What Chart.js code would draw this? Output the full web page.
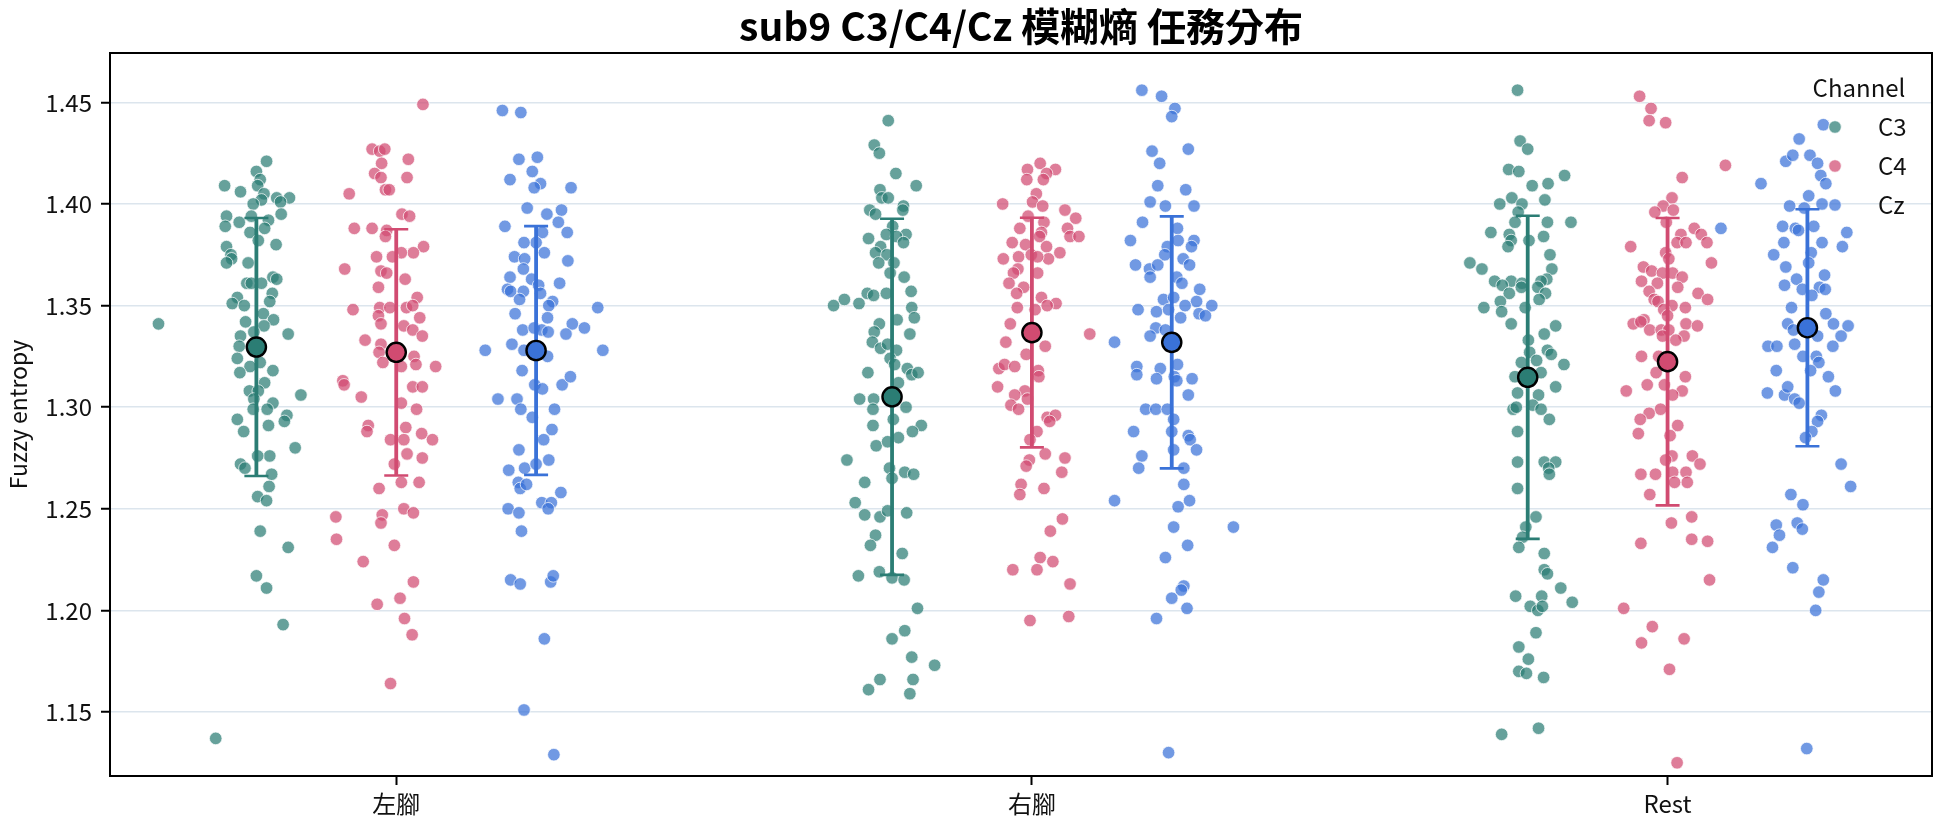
<!DOCTYPE html>
<html>
<head>
<meta charset="utf-8">
<script src="https://cdn.jsdelivr.net/npm/chart.js@4.4.0/dist/chart.umd.min.js"></script>
<style>
    html, body { margin: 0; padding: 0; background: #fff; }
</style>
</head>
<body>
<canvas id="stripChart" width="1944" height="827"></canvas>
<script>
// Categories / channels / ticks
const categories = ['左腳', '右腳', 'Rest'];
const channels = ['C3', 'C4', 'Cz'];
const yTicks = [1.15, 1.20, 1.25, 1.30, 1.35, 1.40, 1.45];

// Mean and SD per channel, in category order
const c3Means = [1.3296, 1.3051, 1.3147];
const c4Means = [1.3270, 1.3367, 1.3224];
const czMeans = [1.3279, 1.3319, 1.3391];
const c3Sd = [0.0635, 0.0876, 0.0795];
const c4Sd = [0.0606, 0.0565, 0.0707];
const czSd = [0.0612, 0.0620, 0.0583];

// Trial values and their horizontal jitter
const c3Left = [1.421,1.416,1.412,1.409,1.409,1.406,1.405,1.403,1.403,1.402,
    1.401,1.400,1.395,1.394,1.391,1.394,1.392,1.389,1.388,1.386,
    1.382,1.380,1.379,1.375,1.373,1.371,1.371,1.364,1.363,1.361,
    1.361,1.361,1.356,1.354,1.351,1.350,1.352,1.346,1.341,1.343,
    1.342,1.340,1.336,1.335,1.337,1.330,1.324,1.322,1.320,1.318,
    1.317,1.312,1.308,1.308,1.306,1.304,1.302,1.299,1.299,1.294,
    1.296,1.293,1.291,1.288,1.280,1.276,1.276,1.272,1.270,1.267,
    1.261,1.256,1.254,1.239,1.231,1.217,1.211,1.193,1.137];
const c3LeftJit = [0.016,0,0.006,-0.050,0.002,-0.025,0.012,0.032,0.052,0.008,
    0.038,-0.005,0.039,-0.047,-0.027,-0.008,0.019,-0.049,0.013,-0.010,
    0.003,0.031,-0.047,-0.040,-0.039,-0.047,-0.013,0.026,0.032,-0.015,
    -0.008,0.008,0.025,-0.030,-0.038,-0.019,0.021,0.011,-0.154,0.027,
    -0.017,0.012,0.050,-0.025,-0.004,-0.027,-0.030,0.006,-0.010,0.026,
    -0.026,0.013,-0.011,0.003,0.070,-0.004,0.026,0.017,-0.005,-0.030,
    0.048,0.044,0.019,-0.020,0.061,0.021,0.002,-0.025,-0.018,0.024,
    0.020,0.002,0.016,0.006,0.050,0,0.016,0.042,-0.064];

const c4Left = [1.449,1.427,1.426,1.427,1.420,1.422,1.415,1.413,1.413,1.407,
    1.407,1.405,1.395,1.394,1.388,1.388,1.387,1.384,1.379,1.376,
    1.376,1.374,1.374,1.368,1.367,1.366,1.363,1.359,1.354,1.348,
    1.349,1.349,1.349,1.350,1.345,1.344,1.341,1.340,1.338,1.335,
    1.333,1.331,1.327,1.325,1.322,1.320,1.321,1.320,1.313,1.311,
    1.310,1.310,1.305,1.302,1.299,1.291,1.288,1.290,1.284,1.284,
    1.287,1.284,1.277,1.272,1.275,1.260,1.263,1.263,1.250,1.248,
    1.246,1.247,1.243,1.235,1.232,1.224,1.214,1.206,1.203,1.196,
    1.188,1.164];
const c4LeftJit = [0.042,-0.038,-0.026,-0.018,-0.023,0.019,-0.034,-0.024,0.017,-0.017,
    -0.011,-0.074,0.009,0.021,-0.066,-0.038,-0.015,-0.017,0.043,0.027,
    0.008,-0.031,-0.006,-0.081,-0.024,-0.015,0.014,-0.028,0.033,-0.068,
    -0.026,-0.010,0.016,0.026,-0.028,0.037,-0.024,0.012,0.026,0.041,
    -0.049,-0.024,-0.027,0.028,-0.021,0.008,0.031,0.062,-0.084,-0.082,
    0.026,0.041,-0.055,0.008,0.032,-0.044,-0.046,0.015,-0.009,0.012,
    0.040,0.057,0.017,-0.003,0.041,-0.027,0.008,0.036,0.012,0.027,
    -0.095,-0.022,-0.024,-0.094,-0.003,-0.052,0.027,0.006,-0.030,0.013,
    0.025,-0.009];

const czLeft = [1.446,1.445,1.422,1.423,1.416,1.412,1.410,1.408,1.408,1.398,
    1.397,1.395,1.391,1.389,1.386,1.386,1.381,1.381,1.376,1.374,
    1.373,1.372,1.368,1.363,1.364,1.361,1.360,1.358,1.357,1.357,
    1.356,1.353,1.352,1.349,1.346,1.350,1.344,1.341,1.339,1.338,
    1.339,1.338,1.336,1.337,1.331,1.328,1.328,1.328,1.325,1.318,
    1.311,1.309,1.311,1.315,1.304,1.304,1.299,1.299,1.295,1.289,
    1.284,1.279,1.269,1.270,1.272,1.274,1.263,1.260,1.262,1.258,
    1.253,1.253,1.250,1.248,1.250,1.239,1.215,1.213,1.214,1.217,
    1.186,1.151,1.129];
const czLeftJit = [-0.053,-0.024,-0.027,0.002,-0.006,-0.041,0.007,-0.003,0.055,-0.014,
    0.040,0.017,0.035,-0.049,0.010,0.049,0,-0.019,0.013,-0.034,
    -0.018,0.050,-0.020,-0.007,-0.041,0.037,0.004,-0.045,-0.040,-0.020,
    0.007,-0.026,0.026,0.097,-0.033,0.020,0.018,0.057,0.076,-0.021,
    -0.003,0.009,0.047,0.019,-0.038,-0.080,-0.019,0.105,0.018,-0.022,
    -0.002,0.010,0.041,0.054,-0.060,-0.030,-0.024,0.029,-0.006,0.025,
    0.012,-0.027,-0.043,-0.018,0,0.020,-0.028,-0.025,-0.015,0.039,
    0.009,0.024,-0.044,-0.027,0.019,-0.023,-0.040,-0.025,0.023,0.027,
    0.013,-0.019,0.028];

const c3Right = [1.441,1.429,1.425,1.415,1.409,1.407,1.403,1.403,1.399,1.397,
    1.397,1.395,1.389,1.383,1.385,1.385,1.384,1.381,1.379,1.376,
    1.375,1.371,1.371,1.366,1.364,1.357,1.356,1.355,1.356,1.353,
    1.350,1.351,1.349,1.344,1.343,1.341,1.337,1.336,1.332,1.329,
    1.331,1.328,1.324,1.321,1.317,1.319,1.316,1.317,1.312,1.304,
    1.304,1.299,1.300,1.294,1.291,1.291,1.288,1.285,1.281,1.283,
    1.274,1.270,1.268,1.267,1.265,1.263,1.253,1.247,1.246,1.249,
    1.248,1.237,1.232,1.228,1.217,1.219,1.216,1.215,1.201,1.190,
    1.186,1.177,1.173,1.166,1.166,1.161,1.159];
const c3RightJit = [-0.006,-0.028,-0.020,0.006,0.038,-0.019,-0.016,-0.006,0.018,0.017,
    -0.035,-0.026,0.001,-0.037,-0.009,0.022,0.007,0.018,-0.018,-0.026,
    -0.008,-0.021,0.003,-0.003,0.019,0.030,-0.039,-0.029,-0.009,-0.075,
    -0.092,-0.052,0.031,0.035,0.008,-0.020,-0.028,0.028,-0.031,-0.018,
    -0.007,0.007,-0.003,0.004,-0.038,0.024,0.031,0.041,0.010,-0.051,
    -0.029,-0.030,0.022,0.002,-0.030,0.046,0.032,0.010,-0.025,-0.007,
    -0.071,-0.004,0.020,0.034,0,-0.043,-0.058,-0.043,-0.019,-0.007,
    0.023,-0.026,-0.034,0.016,-0.053,-0.020,0,0.019,0.040,0.020,
    0,0.031,0.067,-0.019,0.033,-0.037,0.028];

const c4Right = [1.417,1.420,1.417,1.415,1.412,1.412,1.405,1.401,1.400,1.399,
    1.397,1.394,1.391,1.393,1.388,1.388,1.386,1.384,1.384,1.384,
    1.381,1.380,1.379,1.376,1.373,1.374,1.375,1.373,1.374,1.368,
    1.366,1.366,1.361,1.359,1.356,1.354,1.351,1.350,1.349,1.348,
    1.341,1.336,1.332,1.330,1.326,1.319,1.321,1.320,1.318,1.315,
    1.310,1.308,1.306,1.304,1.301,1.299,1.295,1.296,1.293,1.288,
    1.284,1.277,1.275,1.274,1.271,1.268,1.262,1.260,1.257,1.245,
    1.239,1.226,1.224,1.220,1.220,1.213,1.195,1.197];
const c4RightJit = [-0.007,0.013,0.037,0.023,-0.008,0.018,0.007,0.001,-0.046,0.017,
    0.052,-0.006,0.019,0.069,-0.019,0.056,0.015,0.012,0.060,0.074,
    -0.031,-0.010,0.023,0.044,-0.045,-0.021,-0.001,0.026,0.009,-0.022,
    -0.029,0.009,-0.036,-0.013,-0.024,0.015,0.038,0.024,-0.023,0.005,
    -0.034,0.091,-0.041,0.021,-0.009,-0.052,-0.043,-0.027,0.010,0.011,
    -0.054,-0.011,-0.027,-0.007,-0.033,-0.021,0.024,0.037,0.028,0.008,
    -0.003,0.021,0.052,-0.004,-0.009,0.047,-0.017,0.019,-0.019,0.048,
    0.029,0.013,0.033,-0.030,0.008,0.060,-0.003,0.058];

const czRight = [1.456,1.453,1.447,1.443,1.426,1.427,1.420,1.409,1.407,1.401,
    1.399,1.399,1.391,1.388,1.382,1.382,1.382,1.379,1.379,1.375,
    1.373,1.370,1.368,1.370,1.370,1.364,1.364,1.361,1.358,1.353,
    1.354,1.352,1.348,1.347,1.350,1.350,1.346,1.345,1.348,1.344,
    1.339,1.338,1.335,1.332,1.320,1.316,1.319,1.314,1.321,1.315,
    1.313,1.314,1.306,1.299,1.299,1.299,1.294,1.288,1.288,1.286,
    1.284,1.279,1.279,1.276,1.270,1.270,1.262,1.254,1.254,1.251,
    1.241,1.241,1.232,1.226,1.212,1.210,1.206,1.201,1.196,1.130];
const czRightJit = [-0.047,-0.016,0.005,0,-0.031,0.026,-0.019,-0.022,0.022,-0.034,
    -0.010,0.035,-0.046,0.009,-0.065,0.010,0.035,-0.007,0.031,-0.011,
    0.018,-0.057,-0.035,-0.022,0.028,-0.034,0.008,0.016,0.044,-0.013,
    0.003,0.039,-0.053,-0.024,0.021,0.063,0.043,0.053,-0.005,0.014,
    -0.025,-0.010,-0.034,-0.090,-0.055,-0.055,-0.018,-0.024,0.009,0.004,
    0.008,0.032,0.026,-0.041,-0.025,-0.007,0.003,-0.060,0,0.026,
    0.029,0.039,0.003,-0.047,-0.052,0.019,0.019,-0.090,0.028,0.010,
    0.003,0.097,0.025,-0.010,0.019,0.015,0,0.024,-0.024,-0.005];

const c3Rest = [1.456,1.431,1.427,1.417,1.416,1.409,1.410,1.414,1.403,1.402,
    1.400,1.400,1.396,1.391,1.391,1.391,1.386,1.385,1.384,1.382,
    1.382,1.379,1.375,1.371,1.368,1.368,1.363,1.362,1.362,1.360,
    1.361,1.362,1.356,1.359,1.359,1.356,1.352,1.353,1.349,1.347,
    1.349,1.341,1.340,1.336,1.333,1.328,1.326,1.327,1.323,1.321,
    1.322,1.317,1.315,1.310,1.307,1.306,1.301,1.299,1.300,1.299,
    1.294,1.288,1.273,1.273,1.273,1.270,1.267,1.260,1.246,1.241,
    1.236,1.231,1.228,1.220,1.218,1.211,1.207,1.207,1.202,1.200,
    1.202,1.204,1.189,1.182,1.176,1.170,1.169,1.167,1.139,1.142];
const c3RestJit = [-0.016,-0.012,0,-0.030,-0.014,0.007,0.032,0.058,-0.025,0.027,
    -0.044,-0.009,-0.015,-0.020,0.031,0.068,-0.058,-0.029,0.025,0.002,
    -0.026,-0.031,0.035,-0.091,-0.072,0.038,0.030,-0.052,-0.026,-0.040,
    -0.009,0.021,-0.029,-0.010,0.016,0.028,-0.043,0.018,-0.069,-0.041,
    -0.004,-0.026,0.044,0.026,0.001,0.031,0.037,0.003,0.014,0.057,
    -0.010,0.021,-0.020,0.044,-0.016,0.017,0.008,-0.023,-0.018,0.021,
    0.034,-0.016,-0.016,0.026,0.044,0.033,0.034,-0.016,0.013,-0.003,
    -0.008,-0.014,0.026,0.026,0.031,0.052,-0.019,0.022,0.004,0.016,
    0.023,0.070,0.013,-0.014,0.001,-0.014,-0.002,0.025,-0.041,0.017];

const c4Rest = [1.453,1.447,1.441,1.440,1.419,1.413,1.403,1.399,1.397,1.396,
    1.391,1.388,1.385,1.385,1.381,1.381,1.381,1.379,1.376,1.373,
    1.371,1.369,1.367,1.366,1.366,1.364,1.362,1.361,1.359,1.357,
    1.356,1.353,1.353,1.352,1.350,1.349,1.348,1.345,1.341,1.343,
    1.342,1.341,1.340,1.338,1.338,1.338,1.335,1.335,1.333,1.325,
    1.325,1.317,1.311,1.311,1.315,1.308,1.308,1.306,1.299,1.297,
    1.294,1.291,1.287,1.286,1.276,1.276,1.274,1.272,1.267,1.267,
    1.268,1.268,1.263,1.263,1.257,1.246,1.243,1.235,1.234,1.233,
    1.215,1.201,1.192,1.184,1.186,1.171,1.125];
const c4RestJit = [-0.044,-0.026,-0.029,-0.003,0.091,0.023,0.007,-0.007,0.009,-0.020,
    -0.002,0.042,0.021,0.053,0.015,0.029,0.062,-0.058,-0.003,0.002,
    0.069,-0.038,-0.025,-0.008,0.008,0.023,-0.041,-0.016,0.016,-0.029,
    0.048,0.063,-0.021,-0.015,0.007,0.028,-0.006,0,-0.054,-0.037,
    -0.042,0.029,0.047,-0.028,-0.010,0.002,0.026,-0.008,0.013,-0.041,
    -0.014,-0.018,-0.032,-0.005,0.028,0.023,-0.065,0.008,-0.011,-0.029,
    -0.043,0.016,-0.046,0.004,0.039,0.007,-0.003,0.051,-0.042,-0.019,
    0.008,0.029,0.031,0.011,-0.028,0.038,0.006,0.038,0.063,-0.042,
    0.066,-0.069,-0.024,-0.041,0.026,0.003,0.015];

const czRest = [1.439,1.432,1.421,1.424,1.424,1.420,1.414,1.410,1.410,1.404,
    1.399,1.400,1.398,1.388,1.389,1.388,1.389,1.386,1.381,1.387,
    1.381,1.379,1.375,1.376,1.371,1.369,1.365,1.363,1.360,1.358,
    1.359,1.358,1.355,1.349,1.346,1.341,1.341,1.340,1.338,1.335,
    1.335,1.330,1.330,1.331,1.330,1.325,1.325,1.322,1.318,1.318,
    1.315,1.307,1.306,1.310,1.304,1.308,1.302,1.296,1.293,1.288,
    1.285,1.272,1.261,1.257,1.252,1.242,1.243,1.240,1.237,1.231,
    1.221,1.215,1.209,1.200,1.132];
const czRestJit = [0.025,-0.013,-0.034,-0.023,0.004,0.016,0.021,-0.073,0.029,0.002,
    -0.028,0.023,-0.005,-0.136,-0.039,-0.019,0.010,0.062,-0.037,-0.014,
    0.023,0.055,-0.053,0.006,0.002,-0.034,0.027,-0.017,-0.036,-0.008,
    0.019,0.028,0.007,-0.025,0.029,-0.031,0.041,0.064,-0.022,0.016,
    0.053,-0.062,-0.048,-0.020,0.040,-0.007,0.014,0.018,-0.049,0.005,
    0.033,-0.063,-0.036,-0.031,-0.020,0.044,-0.013,0.022,0.016,0.007,
    -0.003,0.053,0.068,-0.026,-0.007,-0.049,-0.016,-0.008,-0.044,-0.055,
    -0.023,0.025,0.018,0.013,-0.001];

// Styling
const FONT = "'Noto Sans CJK TC', 'Noto Sans', sans-serif";
const DODGE = [-0.22, 0, 0.22];
const lineColors = ['#2b7d74', '#d14b71', '#3a72d8'];
const pointColors = ['rgba(43,125,116,0.72)', 'rgba(209,75,113,0.72)', 'rgba(58,114,216,0.72)'];

const stripGroups = [
    [[c3Left, c3LeftJit], [c3Right, c3RightJit], [c3Rest, c3RestJit]],
    [[c4Left, c4LeftJit], [c4Right, c4RightJit], [c4Rest, c4RestJit]],
    [[czLeft, czLeftJit], [czRight, czRightJit], [czRest, czRestJit]]
];
const meanGroups = [c3Means, c4Means, czMeans];
const sdGroups = [c3Sd, c4Sd, czSd];

// Build datasets
const datasets = [];
channels.forEach((ch, c) => {
    const pts = [];
    stripGroups[c].forEach(([vals, jit], k) => {
        vals.forEach((v, i) => pts.push({ x: k + DODGE[c] + (jit[i] ?? 0), y: v }));
    });
    datasets.push({
        label: ch,
        data: pts,
        order: 2,
        backgroundColor: pointColors[c],
        borderColor: 'rgba(255,255,255,0.9)',
        borderWidth: 0.8,
        pointRadius: 6.3,
        pointHoverRadius: 6.3
    });
});
channels.forEach((ch, c) => {
    datasets.push({
        label: ch + ' mean',
        isMean: true,
        data: meanGroups[c].map((m, k) => ({ x: k + DODGE[c], y: m })),
        order: 0,
        backgroundColor: lineColors[c],
        borderColor: '#000',
        borderWidth: 2.4,
        pointRadius: 9.6,
        pointHoverRadius: 9.6
    });
});

// Error bars (mean ± SD), drawn just before the mean markers
let errorBarsDone = false;
const errorBarPlugin = {
    id: 'errorBars',
    beforeDatasetsDraw() { errorBarsDone = false; },
    beforeDatasetDraw(chart, args) {
        const ds = chart.data.datasets[args.index];
        if (!ds.isMean || errorBarsDone) return;
        errorBarsDone = true;
        const { ctx, scales: { x, y } } = chart;
        ctx.save();
        channels.forEach((ch, c) => {
            meanGroups[c].forEach((m, k) => {
                const px = x.getPixelForValue(k + DODGE[c]);
                const top = y.getPixelForValue(m + sdGroups[c][k]);
                const bot = y.getPixelForValue(m - sdGroups[c][k]);
                ctx.strokeStyle = lineColors[c];
                ctx.lineWidth = 3.8;
                ctx.beginPath();
                ctx.moveTo(px, top);
                ctx.lineTo(px, bot);
                ctx.stroke();
                ctx.lineWidth = 2.6;
                ctx.beginPath();
                ctx.moveTo(px - 12, top); ctx.lineTo(px + 12, top);
                ctx.moveTo(px - 12, bot); ctx.lineTo(px + 12, bot);
                ctx.stroke();
            });
        });
        ctx.restore();
    }
};

// Frame + legend
const framePlugin = {
    id: 'frameLegend',
    afterDraw(chart) {
        const { ctx, chartArea: a } = chart;
        ctx.save();
        ctx.strokeStyle = '#000';
        ctx.lineWidth = 2;
        ctx.strokeRect(a.left, a.top, a.right - a.left, a.bottom - a.top);

        ctx.font = `24px ${FONT}`;
        ctx.fillStyle = '#111';
        ctx.textBaseline = 'middle';
        ctx.textAlign = 'center';
        ctx.fillText('Channel', a.right - 73, a.top + 35);
        channels.forEach((ch, c) => {
            const yy = a.top + 74 + c * 39;
            ctx.beginPath();
            ctx.arc(a.right - 97, yy, 6.3, 0, Math.PI * 2);
            ctx.fillStyle = pointColors[c];
            ctx.fill();
            ctx.strokeStyle = '#fff';
            ctx.lineWidth = 0.8;
            ctx.stroke();
            ctx.fillStyle = '#111';
            ctx.textAlign = 'left';
            ctx.fillText(ch, a.right - 54, yy);
        });
        ctx.restore();
    }
};

const ctx = document.getElementById('stripChart').getContext('2d');
new Chart(ctx, {
    type: 'scatter',
    data: { datasets },
    options: {
        responsive: false,
        animation: false,
        devicePixelRatio: 1,
        layout: { padding: { left: 0, right: 9, top: 0, bottom: 0 } },
        plugins: {
            legend: { display: false },
            tooltip: { enabled: false },
            title: {
                display: true,
                text: 'sub9 C3/C4/Cz 模糊熵 任務分布',
                fullSize: false,
                color: '#000',
                font: { family: FONT, size: 39, weight: 'bold', lineHeight: 1.2 },
                padding: { top: 3, bottom: 3.2 }
            }
        },
        scales: {
            x: {
                type: 'linear',
                min: -0.4503,
                max: 2.416,
                afterFit: (s) => { s.height = 51; },
                afterBuildTicks: (s) => { s.ticks = categories.map((_, i) => ({ value: i })); },
                ticks: {
                    color: '#111',
                    font: { family: FONT, size: 24 },
                    padding: 4,
                    callback: (v) => categories[v]
                },
                grid: { drawOnChartArea: false, drawTicks: true, tickLength: 9, tickWidth: 2, tickColor: '#000' },
                border: { display: false }
            },
            y: {
                min: 1.1185,
                max: 1.4743,
                afterFit: (s) => { s.width = 110; },
                afterBuildTicks: (s) => { s.ticks = yTicks.map(v => ({ value: v })); },
                ticks: {
                    color: '#111',
                    font: { family: FONT, size: 24 },
                    padding: 9,
                    callback: (v) => v.toFixed(2)
                },
                grid: { color: '#dce5ed', lineWidth: 1.5, tickLength: 9, tickWidth: 2, tickColor: '#000' },
                border: { display: false },
                title: {
                    display: true,
                    text: 'Fuzzy entropy',
                    color: '#111',
                    font: { family: FONT, size: 23 },
                    padding: { top: 4, bottom: 0 }
                }
            }
        }
    },
    plugins: [errorBarPlugin, framePlugin]
});
</script>
</body>
</html>
